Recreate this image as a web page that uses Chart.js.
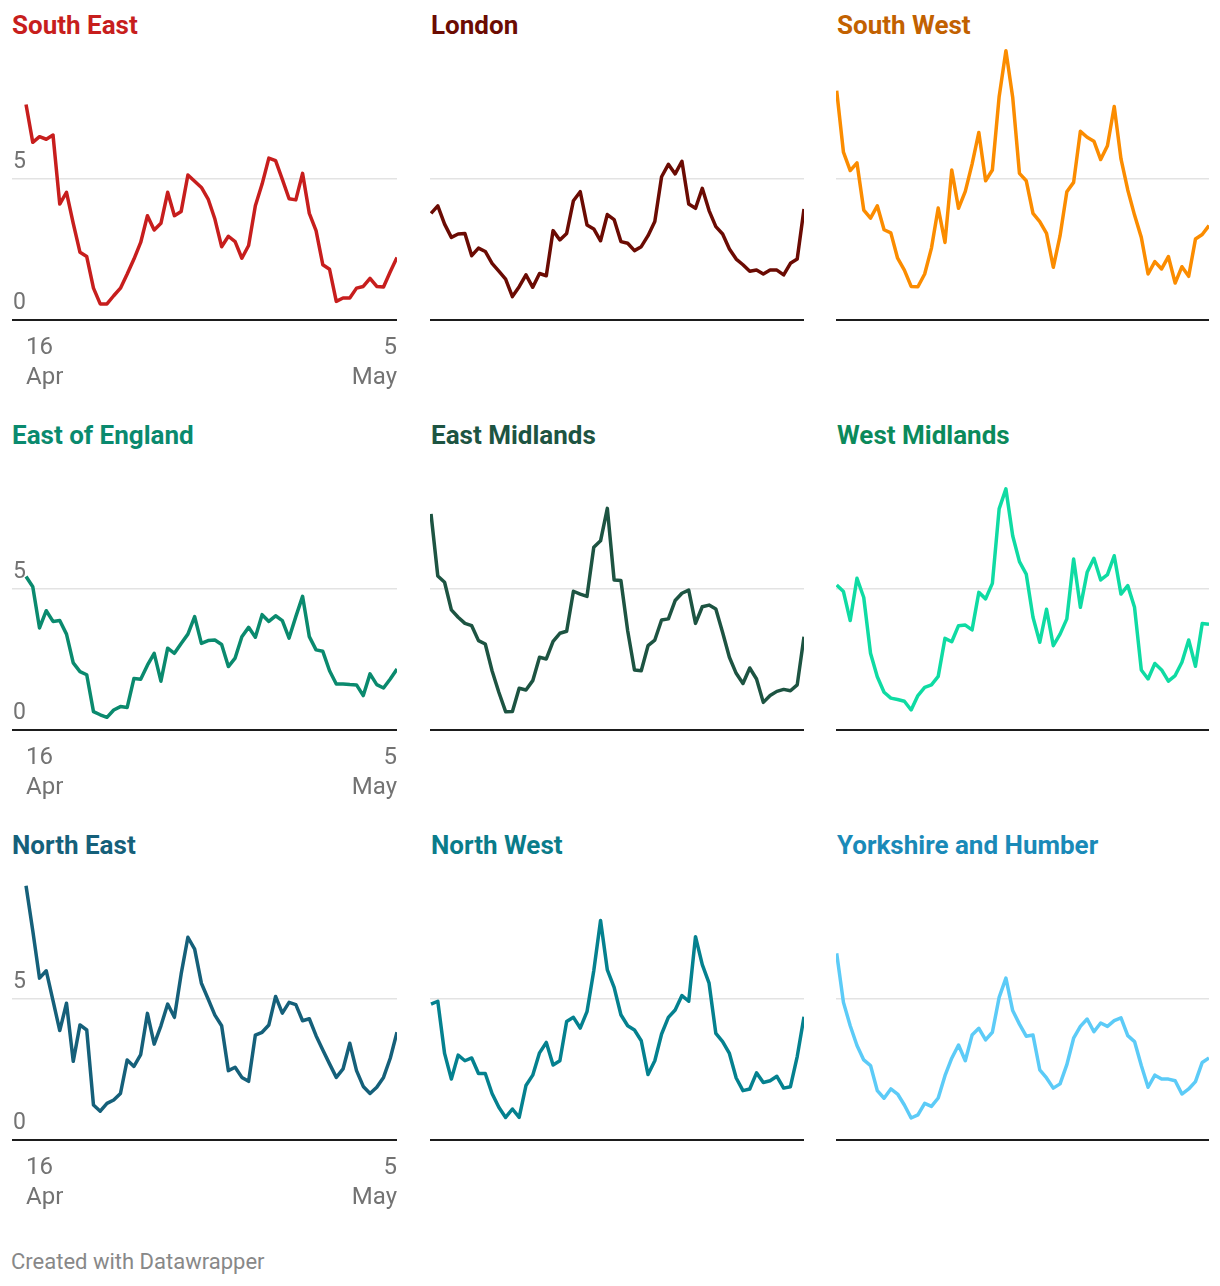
<!DOCTYPE html>
<html>
<head>
<meta charset="utf-8">
<script src="https://cdn.jsdelivr.net/npm/chart.js@4"></script>
<style>
body { margin: 0; background: #fff; font-family: Roboto, sans-serif; }
#wrap { position: relative; width: 1220px; height: 1286px; overflow: hidden; }
.title { position: absolute; font-weight: 700; font-size: 26px; line-height: 30px; white-space: nowrap; }
.box { position: absolute; }
#credit { position: absolute; left: 11px; top: 1249px; font-size: 22px; line-height: 26px; color: #888; }
</style>
</head>
<body>
<div id="wrap">
	<div id="credit">Created with Datawrapper</div>
</div>
<script>
// 56 readings per region, 16 Apr -> 5 May
const regions = ['South East', 'London', 'South West', 'East of England', 'East Midlands', 'West Midlands', 'North East', 'North West', 'Yorkshire and Humber'];

const southEast = [7.64, 6.30, 6.50, 6.41, 6.56, 4.11, 4.53, 3.43, 2.40, 2.25, 1.13, 0.57, 0.57, 0.86, 1.13, 1.63, 2.16, 2.75, 3.70, 3.19, 3.43, 4.53, 3.70, 3.85, 5.14, 4.92, 4.70, 4.29, 3.58, 2.60, 2.97, 2.78, 2.19, 2.64, 4.05, 4.82, 5.74, 5.65, 4.99, 4.30, 4.26, 5.20, 3.78, 3.17, 1.96, 1.80, 0.66, 0.78, 0.78, 1.13, 1.19, 1.48, 1.19, 1.17, 1.71, 2.22];
const london = [3.78, 4.05, 3.40, 2.93, 3.05, 3.07, 2.28, 2.55, 2.43, 2.01, 1.73, 1.45, 0.83, 1.18, 1.60, 1.16, 1.65, 1.57, 3.17, 2.84, 3.07, 4.23, 4.55, 3.37, 3.23, 2.81, 3.74, 3.56, 2.78, 2.72, 2.46, 2.60, 2.99, 3.49, 5.08, 5.52, 5.18, 5.63, 4.11, 3.96, 4.67, 3.88, 3.31, 3.05, 2.52, 2.16, 1.96, 1.73, 1.77, 1.63, 1.77, 1.77, 1.60, 2.01, 2.16, 3.94];
const southWest = [8.13, 5.95, 5.30, 5.57, 3.90, 3.61, 4.05, 3.20, 3.09, 2.19, 1.77, 1.19, 1.18, 1.63, 2.55, 3.97, 2.75, 5.32, 3.96, 4.56, 5.53, 6.65, 4.94, 5.32, 7.92, 9.55, 7.90, 5.20, 4.94, 3.78, 3.49, 3.07, 1.87, 2.99, 4.55, 4.88, 6.69, 6.48, 6.34, 5.69, 6.18, 7.57, 5.71, 4.61, 3.72, 2.93, 1.63, 2.07, 1.81, 2.25, 1.31, 1.89, 1.55, 2.87, 3.03, 3.35];
const eastOfEngland = [5.44, 5.08, 3.62, 4.23, 3.85, 3.88, 3.40, 2.38, 2.07, 1.96, 0.65, 0.54, 0.45, 0.71, 0.83, 0.80, 1.83, 1.80, 2.30, 2.72, 1.73, 2.90, 2.72, 3.07, 3.40, 4.02, 3.07, 3.17, 3.19, 3.03, 2.25, 2.55, 3.31, 3.64, 3.29, 4.09, 3.85, 4.05, 3.88, 3.26, 4.02, 4.74, 3.31, 2.84, 2.79, 2.10, 1.63, 1.63, 1.61, 1.60, 1.22, 1.99, 1.61, 1.49, 1.81, 2.16];
const eastMidlands = [7.66, 5.46, 5.24, 4.26, 4.00, 3.78, 3.70, 3.17, 3.05, 2.10, 1.34, 0.65, 0.66, 1.48, 1.42, 1.75, 2.58, 2.52, 3.14, 3.43, 3.50, 4.92, 4.82, 4.74, 6.48, 6.71, 7.86, 5.32, 5.30, 3.52, 2.13, 2.10, 2.99, 3.19, 3.90, 3.94, 4.59, 4.85, 4.96, 3.78, 4.37, 4.43, 4.29, 3.46, 2.58, 2.01, 1.65, 2.20, 1.81, 0.98, 1.22, 1.37, 1.44, 1.39, 1.60, 3.31];
const westMidlands = [5.14, 4.91, 3.88, 5.38, 4.70, 2.72, 1.89, 1.34, 1.13, 1.08, 1.02, 0.71, 1.22, 1.51, 1.60, 1.90, 3.25, 3.13, 3.70, 3.72, 3.55, 4.88, 4.65, 5.20, 7.84, 8.55, 6.89, 5.97, 5.53, 4.00, 3.11, 4.28, 2.99, 3.40, 3.94, 6.06, 4.35, 5.59, 6.09, 5.32, 5.51, 6.18, 4.82, 5.12, 4.35, 2.13, 1.81, 2.36, 2.13, 1.73, 1.93, 2.40, 3.19, 2.26, 3.78, 3.75];
const northEast = [9.02, 7.42, 5.74, 6.00, 4.94, 3.88, 4.85, 2.79, 4.08, 3.90, 1.24, 1.02, 1.30, 1.42, 1.65, 2.84, 2.61, 3.03, 4.49, 3.40, 4.05, 4.82, 4.35, 5.89, 7.19, 6.77, 5.56, 5.00, 4.43, 4.05, 2.46, 2.58, 2.22, 2.08, 3.72, 3.82, 4.08, 5.09, 4.50, 4.88, 4.80, 4.23, 4.30, 3.70, 3.19, 2.70, 2.22, 2.52, 3.43, 2.46, 1.90, 1.65, 1.87, 2.22, 2.90, 3.82];
const northWest = [4.82, 4.92, 3.07, 2.16, 3.01, 2.81, 2.91, 2.36, 2.36, 1.65, 1.16, 0.80, 1.10, 0.80, 1.93, 2.30, 3.09, 3.46, 2.66, 2.81, 4.20, 4.35, 3.97, 4.55, 6.00, 7.78, 6.03, 5.41, 4.44, 4.05, 3.90, 3.52, 2.32, 2.81, 3.76, 4.35, 4.61, 5.12, 4.92, 7.21, 6.22, 5.56, 3.78, 3.49, 3.07, 2.20, 1.75, 1.81, 2.38, 2.04, 2.10, 2.26, 1.84, 1.89, 2.96, 4.37];
const yorkshire = [6.62, 4.88, 4.05, 3.35, 2.84, 2.64, 1.75, 1.48, 1.81, 1.63, 1.24, 0.78, 0.89, 1.30, 1.19, 1.49, 2.28, 2.90, 3.37, 2.81, 3.72, 3.96, 3.55, 3.82, 5.06, 5.74, 4.59, 4.11, 3.68, 3.72, 2.49, 2.20, 1.84, 1.99, 2.67, 3.61, 4.03, 4.29, 3.84, 4.15, 4.03, 4.23, 4.33, 3.70, 3.49, 2.64, 1.87, 2.30, 2.16, 2.16, 2.10, 1.63, 1.81, 2.07, 2.75, 2.91];

const series = [southEast, london, southWest, eastOfEngland, eastMidlands, westMidlands, northEast, northWest, yorkshire];
const lineColors = ['#c71e1d', '#6b0b03', '#fb8c00', '#0a8a6e', '#1d5442', '#0fdba3', '#15607a', '#04818f', '#5ccbf7'];
const titleColors = ['#c71e1d', '#6b0b03', '#c26100', '#0a8a6e', '#1d5442', '#0b8a5b', '#15607a', '#0a7c8a', '#1a8ab8'];

const xTickIdx = [0, 55];
const xTickLabels = [['16', 'Apr'], ['5', 'May']];
const yTicks = [0, 5];

const cols = [
	{ left: 12, width: 385, min: -2.08 },
	{ left: 430, width: 374, min: -0.15 },
	{ left: 836, width: 373, min: -0.1 },
];
const rowTops = [38, 448, 858];
const titleTops = [10, 420, 830];
const titleLeft = [12, 431, 837];
const plotH = 282;
const axisH = 80;

const wrap = document.getElementById('wrap');

function noPad(s) {
	s.paddingTop = 0;
	s.paddingBottom = 0;
	s.paddingLeft = 0;
	s.paddingRight = 0;
}

for (let i = 0; i < regions.length; i++) {
	const row = Math.floor(i / 3);
	const col = i % 3;
	const first = col === 0;

	const t = document.createElement('div');
	t.className = 'title';
	t.style.left = titleLeft[col] + 'px';
	t.style.top = titleTops[row] + 'px';
	t.style.color = titleColors[i];
	t.textContent = regions[i];
	wrap.appendChild(t);

	const box = document.createElement('div');
	box.className = 'box';
	box.style.left = cols[col].left + 'px';
	box.style.top = rowTops[row] + 'px';
	box.style.width = cols[col].width + 'px';
	box.style.height = plotH + axisH + 'px';
	const canvas = document.createElement('canvas');
	box.appendChild(canvas);
	wrap.appendChild(box);

	new Chart(canvas, {
		type: 'line',
		data: {
			datasets: [
				{
					data: series[i].map((v, j) => ({ x: j, y: v })),
					borderColor: lineColors[i],
					borderWidth: 3.5,
					pointRadius: 0,
					tension: 0,
					borderJoinStyle: 'round',
				},
			],
		},
		options: {
			responsive: true,
			maintainAspectRatio: false,
			animation: false,
			layout: { padding: 0 },
			plugins: { legend: { display: false }, tooltip: { enabled: false } },
			scales: {
				x: {
					type: 'linear',
					min: cols[col].min,
					max: 55,
					grid: { display: false, drawTicks: false },
					border: { display: false },
					afterBuildTicks: (s) => {
						s.ticks = xTickIdx.map((v) => ({ value: v }));
					},
					afterFit: (s) => {
						s.height = axisH;
						noPad(s);
					},
					ticks: {
						display: first,
						autoSkip: false,
						maxRotation: 0,
						align: 'inner',
						padding: 13,
						color: '#737373',
						font: { family: 'Roboto', size: 24, lineHeight: 1.25 },
						callback: (v) => xTickLabels[xTickIdx.indexOf(v)],
					},
				},
				y: {
					min: 0,
					max: 10,
					border: { display: false },
					grid: {
						drawTicks: false,
						color: (c) => (c.tick.value === 0 ? '#1d1d1d' : '#e3e3e3'),
						lineWidth: (c) => (c.tick.value === 0 ? 2 : 1.5),
					},
					afterBuildTicks: (s) => {
						s.ticks = yTicks.map((v) => ({ value: v }));
					},
					afterFit: (s) => {
						s.width = 0;
						noPad(s);
					},
					ticks: {
						display: first,
						mirror: true,
						padding: 1,
						labelOffset: -17,
						color: '#737373',
						font: { family: 'Roboto', size: 23 },
					},
				},
			},
		},
	});
}
</script>
</body>
</html>
